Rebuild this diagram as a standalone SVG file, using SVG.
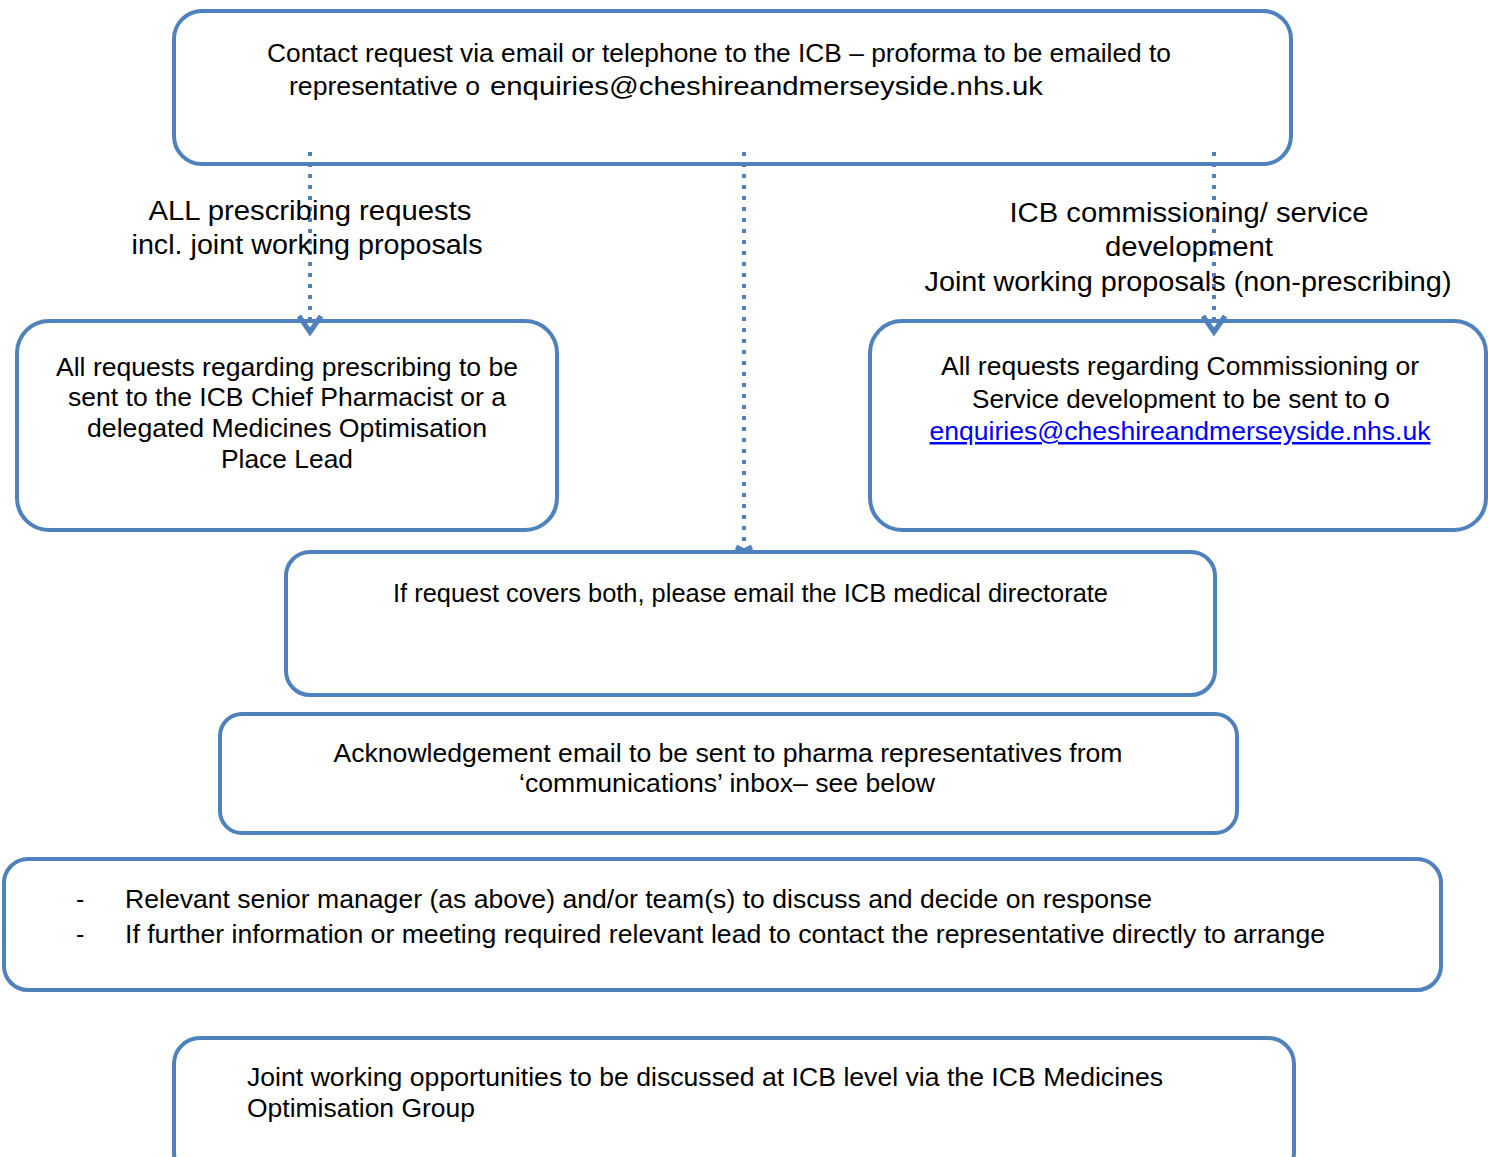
<svg xmlns="http://www.w3.org/2000/svg" width="1488" height="1157" viewBox="0 0 1488 1157">
<defs>
<style>
.box{fill:#ffffff;stroke:#4f81bd;stroke-width:4}
.t{font-family:"Liberation Sans",Arial,sans-serif;font-size:25px;fill:#000}
.c{text-anchor:middle}
.lbl{font-size:27px}
.link{fill:#0000ff;text-decoration:underline}
.conn{stroke:#4f81bd;stroke-width:4;fill:none;stroke-dasharray:4 7}
.head{stroke:#4f81bd;stroke-width:5;fill:none;stroke-linejoin:miter}
</style>
</defs>
<rect width="1488" height="1157" fill="#ffffff"/>
<g id="n-contact">
<rect class="box" x="174" y="11" width="1117" height="153" rx="28"/>
<text class="t" x="267" y="62" textLength="904" lengthAdjust="spacingAndGlyphs">Contact request via email or telephone to the ICB – proforma to be emailed to</text>
<text class="t" x="289" y="95" textLength="191" lengthAdjust="spacingAndGlyphs">representative o</text>
<text class="t" x="490" y="95" font-size="28" textLength="553" lengthAdjust="spacingAndGlyphs">enquiries@cheshireandmerseyside.nhs.uk</text>
</g>
<g id="n-prescribing">
<rect class="box" x="17" y="321" width="540" height="209" rx="32"/>
<text class="t c" x="287" y="376" textLength="462" lengthAdjust="spacingAndGlyphs">All requests regarding prescribing to be</text>
<text class="t c" x="287" y="406" textLength="438" lengthAdjust="spacingAndGlyphs">sent to the ICB Chief Pharmacist or a</text>
<text class="t c" x="287" y="437" textLength="400" lengthAdjust="spacingAndGlyphs">delegated Medicines Optimisation</text>
<text class="t c" x="287" y="468" textLength="132" lengthAdjust="spacingAndGlyphs">Place Lead</text>
</g>
<g id="n-commissioning">
<rect class="box" x="870" y="321" width="616" height="209" rx="32"/>
<text class="t c" x="1180" y="375" textLength="478" lengthAdjust="spacingAndGlyphs">All requests regarding Commissioning or</text>
<text class="t c" x="1181" y="408" textLength="418" lengthAdjust="spacingAndGlyphs"><tspan>Service development to be sent to </tspan><tspan font-size="28">o</tspan></text>
<text class="t c link" x="1180" y="440" font-size="27" textLength="501" lengthAdjust="spacingAndGlyphs">enquiries@cheshireandmerseyside.nhs.uk</text>
</g>
<g id="n-both">
<rect class="box" x="286" y="552" width="929" height="143" rx="24"/>
<text class="t" x="393" y="602" textLength="715" lengthAdjust="spacingAndGlyphs">If request covers both, please email the ICB medical directorate</text>
</g>
<g id="n-ack">
<rect class="box" x="220" y="714" width="1017" height="119" rx="22"/>
<text class="t c" x="728" y="762" textLength="789" lengthAdjust="spacingAndGlyphs">Acknowledgement email to be sent to pharma representatives from</text>
<text class="t c" x="727" y="792" textLength="416" lengthAdjust="spacingAndGlyphs">‘communications’ inbox– see below</text>
</g>
<g id="n-discuss">
<rect class="box" x="4" y="859" width="1437" height="131" rx="24"/>
<text class="t" x="76" y="908" font-size="18">-</text>
<text class="t" x="125" y="908" textLength="1027" lengthAdjust="spacingAndGlyphs">Relevant senior manager (as above) and/or team(s) to discuss and decide on response</text>
<text class="t" x="76" y="943" font-size="18">-</text>
<text class="t" x="125" y="943" textLength="1200" lengthAdjust="spacingAndGlyphs">If further information or meeting required relevant lead to contact the representative directly to arrange</text>
</g>
<g id="n-joint">
<rect class="box" x="174" y="1038" width="1120" height="140" rx="26"/>
<text class="t" x="247" y="1086" textLength="916" lengthAdjust="spacingAndGlyphs">Joint working opportunities to be discussed at ICB level via the ICB Medicines</text>
<text class="t" x="247" y="1117" textLength="228" lengthAdjust="spacingAndGlyphs">Optimisation Group</text>
</g>
<g id="connectors">
<line class="conn" x1="310" y1="152" x2="310" y2="330"/>
<path class="head" d="M299 316 L310 332 L321 316"/>
<line class="conn" x1="744" y1="152" x2="744" y2="550"/>
<path class="head" d="M736 547 L744 551 L752 547"/>
<line class="conn" x1="1214" y1="152" x2="1214" y2="330"/>
<path class="head" d="M1203 316 L1214 332 L1225 316"/>
</g>
<g id="labels">
<text class="t c lbl" x="310" y="220" textLength="323" lengthAdjust="spacingAndGlyphs">ALL prescribing requests</text>
<text class="t c lbl" x="307" y="254" textLength="351" lengthAdjust="spacingAndGlyphs">incl. joint working proposals</text>
<text class="t c lbl" x="1189" y="222" textLength="359" lengthAdjust="spacingAndGlyphs">ICB commissioning/ service</text>
<text class="t c lbl" x="1189" y="256" textLength="168" lengthAdjust="spacingAndGlyphs">development</text>
<text class="t c lbl" x="1188" y="291" textLength="527" lengthAdjust="spacingAndGlyphs">Joint working proposals (non-prescribing)</text>
</g>
</svg>
